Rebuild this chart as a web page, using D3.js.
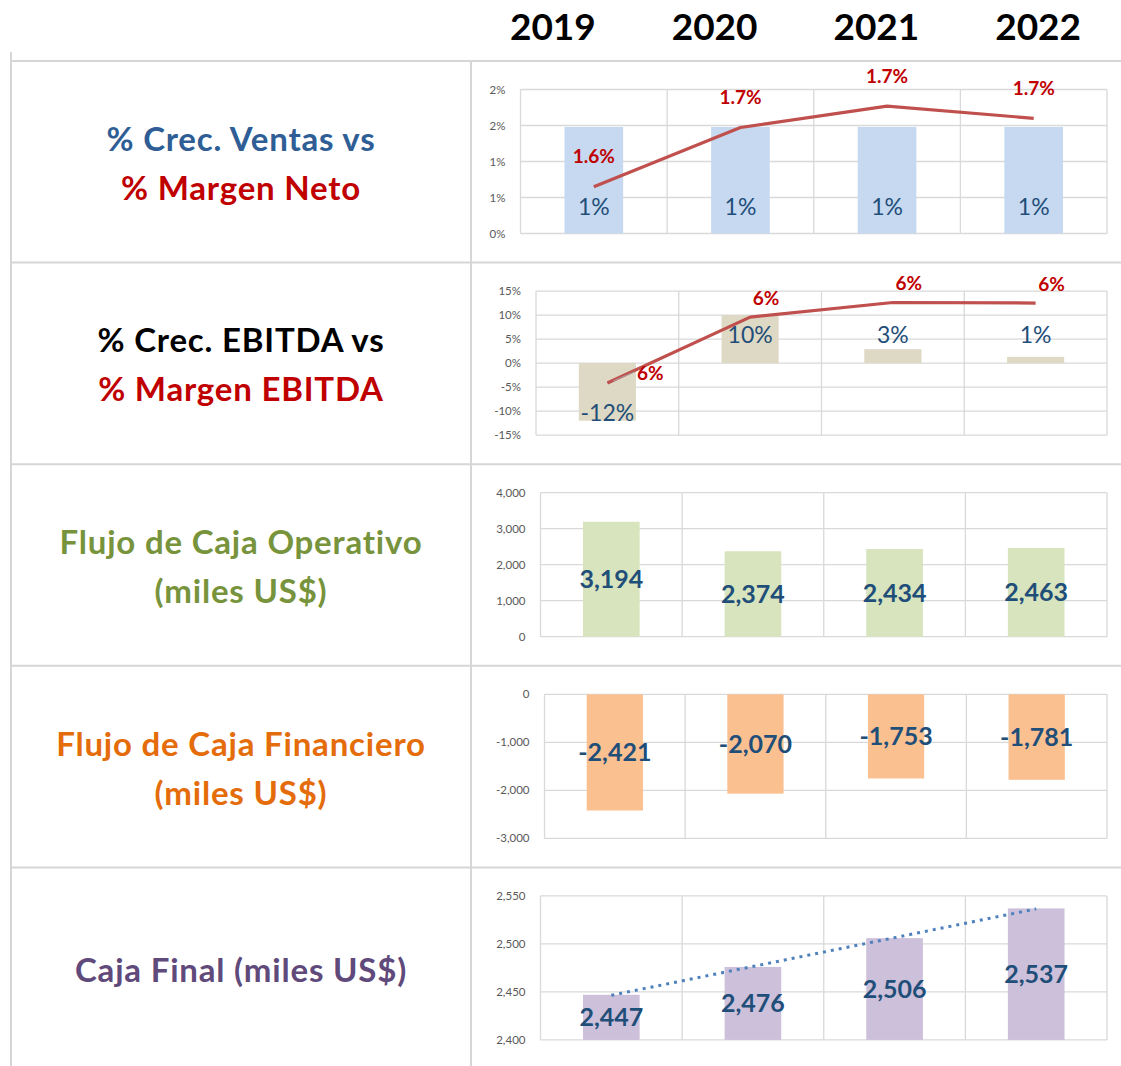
<!DOCTYPE html>
<html>
<head>
<meta charset="utf-8">
<script src="https://cdn.jsdelivr.net/npm/d3@7"></script>
<style>
  html, body { margin: 0; padding: 0; background: #fff; }
  svg { display: block; font-family: Lato, "Open Sans", sans-serif; }
</style>
</head>
<body>
<div id="chart"></div>
<script>
// values
const years = ['2019', '2020', '2021', '2022'];

const crecVentas = [0.0148, 0.0148, 0.0148, 0.0148];
const margenNeto = [0.01581, 0.01684, 0.01721, 0.01700];

const crecEbitda = [-0.12, 0.10, 0.029, 0.013];
const margenEbitda = [0.05707, 0.06347, 0.06489, 0.06484];

const flujoOperativo = [3194, 2374, 2434, 2463];
const flujoFinanciero = [-2421, -2070, -1753, -1781];
const cajaFinal = [2447, 2476, 2506, 2537];

const ventasTicks = [0, 0.005, 0.01, 0.015, 0.02];
const ebitdaTicks = [-0.15, -0.10, -0.05, 0, 0.05, 0.10, 0.15];
const operativoTicks = [0, 1000, 2000, 3000, 4000];
const financieroTicks = [-3000, -2000, -1000, 0];
const cajaTicks = [2400, 2450, 2500, 2550];

const rowTitles = [
    ['% Crec. Ventas vs', '% Margen Neto'],
    ['% Crec. EBITDA vs', '% Margen EBITDA'],
    ['Flujo de Caja Operativo', '(miles US$)'],
    ['Flujo de Caja Financiero', '(miles US$)'],
    ['Caja Final (miles US$)']
];

const W = 1121, H = 1066;
const rowH = 201.6, firstRow = 61, divX = 471, leftX = 11;
const rowTop = i => firstRow + i * rowH;

const titleColors = [
    ['#2E5E95', '#C00000'],
    ['#000000', '#C00000'],
    ['#77933C', '#77933C'],
    ['#E46C0A', '#E46C0A'],
    ['#604A7B']
];

const loc = d3.formatLocale({decimal: '.', thousands: ',', grouping: [3], currency: ['$', ''], minus: '-'});
const num = loc.format(',');
const pctTick = d => Math.round(Math.round(d * 1000) / 10) + '%';
const pct0 = d => Math.round(d * 100) + '%';

const svg = d3.select('#chart').append('svg')
    .attr('width', W)
    .attr('height', H);

// table lines
const tableColor = '#D6D6D6';
svg.append('line')
    .attr('x1', leftX).attr('x2', leftX)
    .attr('y1', 52).attr('y2', H)
    .attr('stroke', tableColor).attr('stroke-width', 2);
svg.append('line')
    .attr('x1', divX).attr('x2', divX)
    .attr('y1', firstRow).attr('y2', H)
    .attr('stroke', tableColor).attr('stroke-width', 2);
svg.selectAll('line.row')
    .data(d3.range(rowTitles.length))
    .enter()
    .append('line')
    .attr('class', 'row')
    .attr('x1', leftX).attr('x2', W)
    .attr('y1', d => rowTop(d)).attr('y2', d => rowTop(d))
    .attr('stroke', tableColor).attr('stroke-width', 2);

// year header
const headerX = d3.scaleBand().domain(years).range([472, 1119]);
svg.selectAll('text.year')
    .data(years)
    .enter()
    .append('text')
    .attr('class', 'year')
    .attr('x', d => headerX(d) + headerX.bandwidth() / 2)
    .attr('y', 27)
    .attr('dy', '0.35em')
    .attr('text-anchor', 'middle')
    .attr('font-size', 37)
    .attr('font-weight', 700)
    .attr('fill', '#000')
    .text(d => d);

// row titles
rowTitles.forEach((lines, i) => {
    const cy = rowTop(i) + rowH / 2 + 2;
    lines.forEach((t, j) => {
        const off = lines.length === 1 ? 0 : (j === 0 ? -24.5 : 24.5);
        svg.append('text')
            .attr('x', (leftX + divX) / 2)
            .attr('y', cy + off)
            .attr('dy', '0.35em')
            .attr('text-anchor', 'middle')
            .attr('font-size', 33)
            .attr('font-weight', 700)
            .attr('letter-spacing', 0.8)
            .attr('fill', titleColors[i][j])
            .text(t);
    });
});

const panels = [
    {
        bars: crecVentas, ticks: ventasTicks, tickFmt: pctTick, left: 520.5,
        color: '#C6D9F1', fmt: pct0, labelSize: 23, labelWeight: 400, place: 'base',
        line: {values: margenNeto, domain: [0.015, 0.0175], fmt: d3.format('.1%')}
    },
    {
        bars: crecEbitda, ticks: ebitdaTicks, tickFmt: pctTick, left: 536,
        color: '#DDD9C4', fmt: pct0, labelSize: 23, labelWeight: 400, place: 'ebitda',
        line: {values: margenEbitda, domain: [0.052, 0.066], fmt: d3.format('.0%')}
    },
    {
        bars: flujoOperativo, ticks: operativoTicks, tickFmt: num, left: 540.5,
        color: '#D7E4BD', fmt: num, labelSize: 25, labelWeight: 700, place: 'center'
    },
    {
        bars: flujoFinanciero, ticks: financieroTicks, tickFmt: num, left: 544.5,
        color: '#FAC090', fmt: num, labelSize: 25, labelWeight: 700, place: 'center'
    },
    {
        bars: cajaFinal, ticks: cajaTicks, tickFmt: num, left: 540.5,
        color: '#CCC0DA', fmt: num, labelSize: 25, labelWeight: 700, place: 'center',
        trend: true
    }
];

const plotRight = 1107;

panels.forEach((p, i) => {
    const top = rowTop(i) + 28.5;
    const bottom = rowTop(i) + 172.5;
    const g = svg.append('g');

    const x = d3.scaleBand()
        .domain(years)
        .range([p.left, plotRight])
        .paddingInner(0.6)
        .paddingOuter(0.3);
    const step = x.step();
    const cx = d => x(d) + x.bandwidth() / 2;

    const dom = d3.extent(p.ticks);
    const y = d3.scaleLinear().domain(dom).range([bottom, top]);
    const baseVal = Math.max(dom[0], Math.min(0, dom[1]));

    // horizontal grid + tick labels
    g.selectAll('line.h')
        .data(p.ticks)
        .enter()
        .append('line')
        .attr('x1', p.left).attr('x2', plotRight)
        .attr('y1', d => y(d)).attr('y2', d => y(d))
        .attr('stroke', '#D9D9D9').attr('stroke-width', 1.3);
    g.selectAll('text.tick')
        .data(p.ticks)
        .enter()
        .append('text')
        .attr('x', p.left - 15)
        .attr('y', d => y(d))
        .attr('dy', '0.35em')
        .attr('text-anchor', 'end')
        .attr('font-size', 11.5)
        .attr('fill', '#595959')
        .text(d => p.tickFmt(d));

    // vertical grid at category boundaries
    g.selectAll('line.v')
        .data(d3.range(years.length + 1))
        .enter()
        .append('line')
        .attr('x1', d => p.left + d * step).attr('x2', d => p.left + d * step)
        .attr('y1', top).attr('y2', bottom)
        .attr('stroke', '#D9D9D9').attr('stroke-width', 1.3);

    // bars
    g.selectAll('rect')
        .data(p.bars)
        .enter()
        .append('rect')
        .attr('x', (d, k) => x(years[k]))
        .attr('width', x.bandwidth())
        .attr('y', d => Math.min(y(d), y(baseVal)))
        .attr('height', d => Math.abs(y(d) - y(baseVal)))
        .attr('fill', p.color);

    // bar labels
    const labelY = d => {
        if (p.place === 'base') return y(baseVal) - 27;
        if (p.place === 'ebitda') return d >= 0 ? Math.min(y(d) + 20, y(0) - 28) : y(d) - 8;
        return (y(d) + y(baseVal)) / 2;
    };
    g.selectAll('text.bar')
        .data(p.bars)
        .enter()
        .append('text')
        .attr('x', (d, k) => cx(years[k]))
        .attr('y', d => labelY(d))
        .attr('dy', '0.35em')
        .attr('text-anchor', 'middle')
        .attr('font-size', p.labelSize)
        .attr('font-weight', p.labelWeight)
        .attr('fill', '#1F4E79')
        .text(d => p.fmt(d));

    // margin line on a hidden secondary axis
    if (p.line) {
        const y2 = d3.scaleLinear().domain(p.line.domain).range([bottom, top]);
        const line = d3.line()
            .x((d, k) => cx(years[k]))
            .y(d => y2(d));
        g.append('path')
            .attr('d', line(p.line.values))
            .attr('fill', 'none')
            .attr('stroke', '#C0504D')
            .attr('stroke-width', 3.2)
            .attr('stroke-linejoin', 'round');

        const isEbitda = p.place === 'ebitda';
        const lx = (d, k) => cx(years[k]) + (isEbitda ? (k === 0 ? 43 : 16) : 0);
        const ly = (d, k) => y2(d) + (isEbitda ? (k === 0 ? -10 : -19) : -30);

        if (isEbitda) {
            const v0 = p.line.values[0];
            g.append('line')
                .attr('x1', cx(years[0]) + 6).attr('y1', y2(v0) - 2)
                .attr('x2', cx(years[0]) + 27).attr('y2', y2(v0) - 11)
                .attr('stroke', '#A6A6A6').attr('stroke-width', 1);
        }

        g.selectAll('text.line')
            .data(p.line.values)
            .enter()
            .append('text')
            .attr('x', lx)
            .attr('y', ly)
            .attr('dy', '0.35em')
            .attr('text-anchor', 'middle')
            .attr('font-size', 19)
            .attr('font-weight', 700)
            .attr('fill', '#C00000')
            .text(d => p.line.fmt(d));
    }

    // linear trend line
    if (p.trend) {
        const idx = d3.range(p.bars.length);
        const mx = d3.mean(idx), my = d3.mean(p.bars);
        const slope = d3.sum(idx, k => (k - mx) * (p.bars[k] - my)) / d3.sum(idx, k => (k - mx) ** 2);
        const fit = k => my + slope * (k - mx);
        const last = idx.length - 1;
        g.append('line')
            .attr('x1', cx(years[0])).attr('y1', y(fit(0)))
            .attr('x2', cx(years[last])).attr('y2', y(fit(last)))
            .attr('stroke', '#4F81BD')
            .attr('stroke-width', 3)
            .attr('stroke-dasharray', '3,5');
    }
});
</script>
</body>
</html>
